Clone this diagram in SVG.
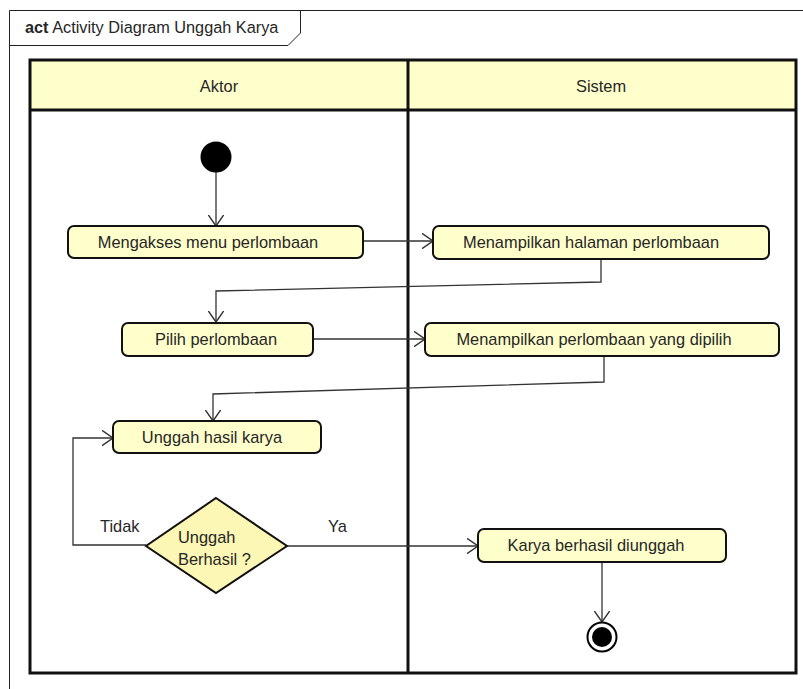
<svg xmlns="http://www.w3.org/2000/svg" width="803" height="689" viewBox="0 0 803 689">
  <style>
    text { font-family: "Liberation Sans", Arial, sans-serif; fill: #262626; }
    .lbl { font-size: 16.4px; text-anchor: middle; }
    .act { fill: #FFFFCC; stroke: #111; stroke-width: 2; }
    .lane { fill: none; stroke: #111; stroke-width: 3; }
    .hdr { fill: #FFFFCC; stroke: none; }
    .edge { fill: none; stroke: #333; stroke-width: 1.3; }
  </style>
  <defs>
    <marker id="open" viewBox="0 0 12 16" refX="11.5" refY="8" markerWidth="12" markerHeight="16" markerUnits="userSpaceOnUse" orient="auto">
      <path d="M0,0 L11.5,8 L0,16" fill="none" stroke="#333" stroke-width="1.4"/>
    </marker>
  </defs>
  <rect width="803" height="689" fill="#fff"/>

  <!-- diagram frame with name tab -->
  <g id="frame">
    <path d="M9.5,700 V10.5 H810" fill="none" stroke="#222" stroke-width="1"/>
    <path d="M9.5,45.5 H288 L300.5,33 V10.5" fill="none" stroke="#222" stroke-width="1"/>
    <text x="25" y="33" style="font-size:16.3px"><tspan font-weight="bold">act</tspan> Activity Diagram Unggah Karya</text>
  </g>

  <!-- swimlanes -->
  <g id="lanes">
    <rect class="hdr" x="30" y="60" width="766" height="50"/>
    <rect class="lane" x="30" y="60" width="766" height="613"/>
    <line class="lane" x1="30" y1="110" x2="796" y2="110"/>
    <line class="lane" x1="408" y1="60" x2="408" y2="673"/>
    <text class="lbl" x="219" y="92">Aktor</text>
    <text class="lbl" x="601" y="92">Sistem</text>
  </g>

  <!-- connectors -->
  <g id="edges">
    <path class="edge" d="M216,172 V226" marker-end="url(#open)"/>
    <path class="edge" d="M363,241 H433" marker-end="url(#open)"/>
    <path class="edge" d="M601,259 V282 L216,291 V322" marker-end="url(#open)"/>
    <path class="edge" d="M313,339 H425" marker-end="url(#open)"/>
    <path class="edge" d="M604,356 V382 L213,394 V421" marker-end="url(#open)"/>
    <path class="edge" d="M146,545 H73 V438 H113" marker-end="url(#open)"/>
    <path class="edge" d="M287,546 H478" marker-end="url(#open)"/>
    <path class="edge" d="M602,562 V622" marker-end="url(#open)"/>
    <text x="100" y="532" style="font-size:16.4px">Tidak</text>
    <text x="328" y="532" style="font-size:16.4px">Ya</text>
  </g>

  <g id="start">
    <circle cx="216" cy="157" r="15.5" fill="#000"/>
  </g>

  <g id="mengakses">
    <rect class="act" x="68" y="226" width="295" height="32" rx="6"/>
    <text class="lbl" x="208" y="248">Mengakses menu perlombaan</text>
  </g>

  <g id="halaman">
    <rect class="act" x="433" y="226" width="336" height="33" rx="6"/>
    <text class="lbl" x="591" y="248">Menampilkan halaman perlombaan</text>
  </g>

  <g id="pilih">
    <rect class="act" x="122" y="323" width="191" height="33" rx="6"/>
    <text class="lbl" x="216" y="345">Pilih perlombaan</text>
  </g>

  <g id="dipilih">
    <rect class="act" x="425" y="323" width="354" height="33" rx="6"/>
    <text class="lbl" x="594" y="345">Menampilkan perlombaan yang dipilih</text>
  </g>

  <g id="unggah">
    <rect class="act" x="113" y="421" width="208" height="32" rx="6"/>
    <text class="lbl" x="212" y="443">Unggah hasil karya</text>
  </g>

  <g id="decision">
    <polygon points="216,498 287,546 216,593 146,546" fill="#FCF7B4" stroke="#111" stroke-width="2"/>
    <text x="178" y="543" style="font-size:16.4px">Unggah</text>
    <text x="178" y="565" style="font-size:16.4px">Berhasil ?</text>
  </g>

  <g id="berhasil">
    <rect class="act" x="478" y="529" width="248" height="33" rx="6"/>
    <text class="lbl" x="596" y="551">Karya berhasil diunggah</text>
  </g>

  <g id="end">
    <circle cx="602" cy="637" r="14.5" fill="#fff" stroke="#000" stroke-width="2"/>
    <circle cx="602" cy="637" r="10" fill="#000"/>
  </g>
</svg>
